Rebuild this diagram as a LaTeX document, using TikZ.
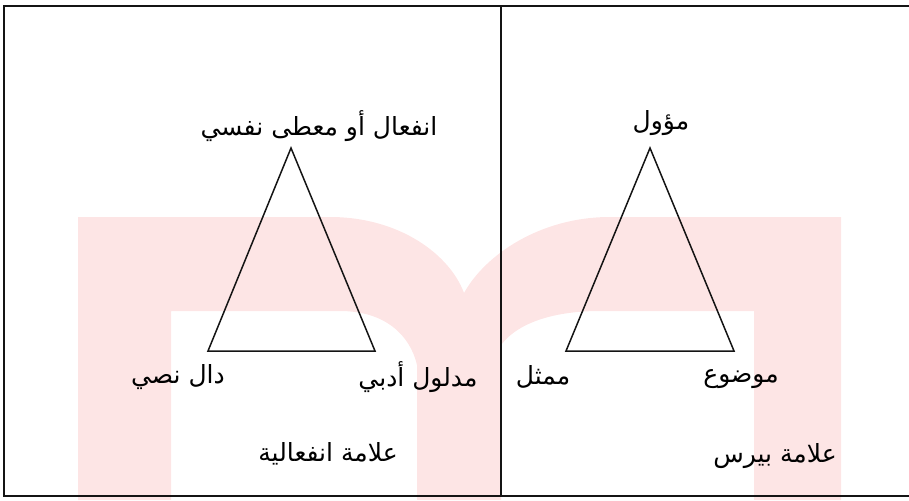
\documentclass[tikz,border=0pt]{standalone}
\usepackage{fontspec}
\newfontfamily\arabicfont[Script=Arabic]{DejaVu Sans}
\TeXXeTstate=1
\usetikzlibrary{positioning}
\definecolor{wmpink}{RGB}{253,229,229}
\definecolor{ink}{RGB}{20,20,20}

\begin{document}
\begin{tikzpicture}[x=1pt,y=-1pt,
    lbl/.style={inner sep=0pt,font=\arabicfont\fontsize{25}{30}\selectfont},
    tri/.style={ink,line width=1.5pt,line join=miter},
    frame/.style={ink,line width=2pt}]
    \useasboundingbox (0,0) rectangle (909,500);

    % watermark behind the panels
    \fill[wmpink,even odd rule]
      (78,500) -- (78,217) -- (330,217)
        .. controls (400,217) and (450,255) .. (464,293)
        .. controls (485,255) and (540,217) .. (610,217)
        -- (841,217) -- (841,500) -- cycle
      (171,500) -- (171,311) -- (340,311)
        .. controls (385,311) and (410,335) .. (417,365)
        -- (417,500) -- cycle
      (501,500) -- (501,345)
        .. controls (520,320) and (560,311) .. (600,311)
        -- (754,311) -- (754,500) -- cycle;

    \draw[frame] (915,6) -- (4,6) -- (4,496) -- (915,496);
    \draw[ink,line width=1.5pt] (501,6) -- (501,496);

    \coordinate (emoTop) at (291,148);
    \coordinate (emoLeft) at (208,351);
    \coordinate (emoRight) at (375,351);
    \draw[tri] (emoTop) -- (emoLeft) -- (emoRight) -- cycle;

    \coordinate (prcTop) at (650,148);
    \coordinate (prcLeft) at (566,351);
    \coordinate (prcRight) at (734,351);
    \draw[tri] (prcTop) -- (prcLeft) -- (prcRight) -- cycle;

    \node[lbl] (emotion) at (319,126) {\beginR انفعال أو معطى نفسي\endR};
    \node[lbl] (textsig) at (178,377) {\beginR دال نصي\endR};
    \node[lbl] (litsig) at (418,377) {\beginR مدلول أدبي\endR};
    \node[lbl] (emosign) at (328,454) {\beginR علامة انفعالية\endR};

    \node[lbl] (interp) at (661,123) {\beginR مؤول\endR};
    \node[lbl] (repr) at (543,377) {\beginR ممثل\endR};
    \node[lbl] (object) at (741,379) {\beginR موضوع\endR};
    \node[lbl] (peirce) at (775,456) {\beginR علامة بيرس\endR};
  \end{tikzpicture}
\end{document}
